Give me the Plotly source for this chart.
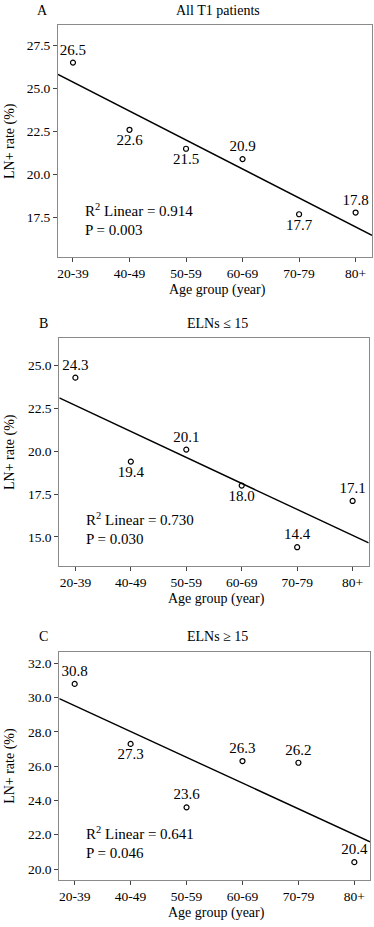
import numpy as np
import plotly.graph_objects as go

W, H = 374, 927

age_groups = ["20-39", "40-49", "50-59", "60-69", "70-79", "80+"]

rate_all = [26.5, 22.6, 21.5, 20.9, 17.7, 17.8]
rate_eln_le15 = [24.3, 19.4, 20.1, 18.0, 14.4, 17.1]
rate_eln_ge15 = [30.8, 27.3, 23.6, 26.3, 26.2, 20.4]

panel_letters = ["A", "B", "C"]
panel_titles = ["All T1 patients", "ELNs ≤ 15", "ELNs ≥ 15"]
r2_texts = ["R<sup>2</sup> Linear = 0.914", "R<sup>2</sup> Linear = 0.730", "R<sup>2</sup> Linear = 0.641"]
p_texts = ["P = 0.003", "P = 0.030", "P = 0.046"]

yticks_all = [17.5, 20.0, 22.5, 25.0, 27.5]
yticks_le15 = [15.0, 17.5, 20.0, 22.5, 25.0]
yticks_ge15 = [20.0, 22.0, 24.0, 26.0, 28.0, 30.0, 32.0]

# label placement (above / below marker)
pos_all = ["top center", "bottom center", "bottom center", "top center", "bottom center", "top center"]
pos_le15 = ["top center", "bottom center", "top center", "bottom center", "top center", "top center"]
pos_ge15 = ["top center", "bottom center", "top center", "top center", "top center", "top center"]

series = [rate_all, rate_eln_le15, rate_eln_ge15]
yticks = [yticks_all, yticks_le15, yticks_ge15]
positions = [pos_all, pos_le15, pos_ge15]

# layout in pixels: (left, right, top, bottom) of plot boxes
boxes = [(58, 372, 25, 257), (59.3, 368.7, 338.3, 565.7), (59.3, 370, 651.7, 880)]
xranges = [[-0.265, 5.29], [-0.29, 5.29], [-0.275, 5.28]]
yranges = [[15.22, 28.68], [13.32, 26.6], [19.36, 32.68]]

FONT = "Liberation Serif"
AXCOL = "#8a8a8a"

fig = go.Figure()
annotations = []
x = np.arange(len(age_groups))

for i in range(3):
    xa = "x" if i == 0 else f"x{i+1}"
    ya = "y" if i == 0 else f"y{i+1}"
    y = np.array(series[i])
    slope, intercept = np.polyfit(x, y, 1)
    xr = xranges[i]
    fig.add_trace(go.Scatter(x=xr, y=[intercept + slope * xr[0], intercept + slope * xr[1]],
                             mode="lines", line=dict(color="black", width=1.4),
                             xaxis=xa, yaxis=ya, showlegend=False, hoverinfo="skip"))
    fig.add_trace(go.Scatter(x=x, y=y, mode="markers+text",
                             text=[f"{v:.1f}" for v in y], textposition=positions[i],
                             textfont=dict(family=FONT, size=15, color="black"),
                             marker=dict(symbol="circle-open", size=5, color="black", line=dict(width=1.2)),
                             xaxis=xa, yaxis=ya, showlegend=False))
    l, r, t, b = boxes[i]
    xd = [l / W, r / W]
    yd = [1 - b / H, 1 - t / H]
    axcommon = dict(showline=True, linecolor=AXCOL, linewidth=1, mirror=True, showgrid=False,
                    zeroline=False, ticks="outside", ticklen=4, tickcolor="#444",
                    tickfont=dict(family=FONT, size=13.5, color="black"))
    fig.layout[("xaxis" if i == 0 else f"xaxis{i+1}")] = dict(
        domain=xd, range=xr, anchor=ya, tickvals=list(x), ticktext=age_groups, **axcommon)
    fig.layout[("yaxis" if i == 0 else f"yaxis{i+1}")] = dict(
        domain=yd, range=yranges[i], anchor=xa, tickvals=yticks[i],
        ticktext=[f"{v:.1f}" for v in yticks[i]], **axcommon)
    cx = (l + r) / 2
    # panel letter and title
    annotations.append(dict(x=(l - 16) / W, y=1 - (t - 15) / H, xref="paper", yref="paper",
                            text=panel_letters[i], showarrow=False, xanchor="center", yanchor="middle",
                            font=dict(family=FONT, size=14, color="black")))
    annotations.append(dict(x=(cx + 3) / W, y=1 - (t - 15) / H, xref="paper", yref="paper",
                            text=panel_titles[i], showarrow=False, xanchor="center", yanchor="middle",
                            font=dict(family=FONT, size=14, color="black")))
    # axis titles
    annotations.append(dict(x=(cx + 2) / W, y=1 - (b + 33) / H, xref="paper", yref="paper",
                            text="Age group (year)", showarrow=False, xanchor="center", yanchor="middle",
                            font=dict(family=FONT, size=14, color="black")))
    annotations.append(dict(x=10 / W, y=1 - ((t + b) / 2) / H, xref="paper", yref="paper",
                            text="LN+ rate (%)", showarrow=False, xanchor="center", yanchor="middle",
                            textangle=-90, font=dict(family=FONT, size=14, color="black")))
    # stats text
    annotations.append(dict(x=(l + 25) / W, y=1 - (b - 47) / H, xref="paper", yref="paper",
                            text=r2_texts[i], showarrow=False, xanchor="left", yanchor="middle",
                            font=dict(family=FONT, size=15, color="black")))
    annotations.append(dict(x=(l + 25) / W, y=1 - (b - 27) / H, xref="paper", yref="paper",
                            text=p_texts[i], showarrow=False, xanchor="left", yanchor="middle",
                            font=dict(family=FONT, size=15, color="black")))

fig.update_layout(width=W, height=H, margin=dict(l=0, r=0, t=0, b=0),
                  paper_bgcolor="white", plot_bgcolor="white",
                  annotations=annotations, font=dict(family=FONT, color="black"))

fig.write_html("out.html", config={"displayModeBar": False},
               post_script="document.body.style.margin='0px';")
